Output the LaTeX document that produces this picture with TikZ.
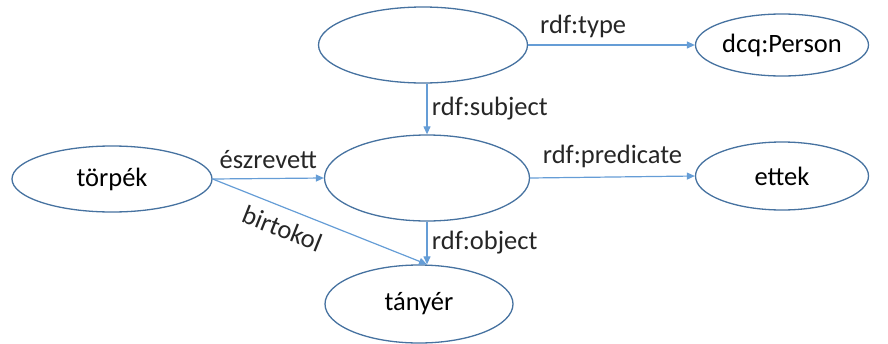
\documentclass[tikz,border=0pt]{standalone}
\usepackage{fontspec}
\setmainfont{Carlito}
\usepackage{tikz}
\usetikzlibrary{shapes.geometric,arrows.meta}
\definecolor{linkblue}{RGB}{101,157,214}
\definecolor{rimblue}{RGB}{70,114,160}

\begin{document}
\begin{tikzpicture}[x=1pt,y=-1pt,
    res/.style={ellipse,draw=rimblue,line width=1.3pt,inner sep=0pt,font=\fontsize{26.5}{30}\selectfont},
    link/.style={draw=linkblue,line width=1.2pt,-{Triangle[length=8pt,width=7pt]}},
    lbl/.style={font=\fontsize{26.5}{30}\selectfont,text=black!85}]
\useasboundingbox (0,0) rectangle (888,343);
% resources
\node[res,minimum width=209,minimum height=76] (person) at (423,45) {};
\node[res,minimum width=173,minimum height=62] (type) at (782,45) {dcq:Person};
\node[res,minimum width=200,minimum height=66] (torpek) at (112,179) {törpék};
\node[res,minimum width=205,minimum height=86] (stmt) at (427,178) {};
\node[res,minimum width=173,minimum height=68] (ettek) at (782,176) {ettek};
\node[res,minimum width=188,minimum height=78] (tanyer) at (419,304) {tányér};
% properties
\draw[link] (person.east) -- node[lbl,above=3pt,pos=0.33] {rdf:type} (type.west);
\draw[link] (person.south -| stmt.north) -- node[lbl,right=1pt] {rdf:subject} (stmt.north);
\draw[link] (torpek.east) -- node[lbl,above=6pt] {észrevett} (stmt.west);
\draw[link] (stmt.east) -- node[lbl,above=5pt,pos=0.5] {rdf:predicate} (ettek.west);
\draw[link] (stmt.south) -- node[lbl,right=1pt] {rdf:object} (stmt.south |- tanyer.north);
\draw[link] (torpek.east) -- node[lbl,below=7pt,sloped,pos=0.36] {birtokol} (stmt.south |- tanyer.north);
\end{tikzpicture}
\end{document}
